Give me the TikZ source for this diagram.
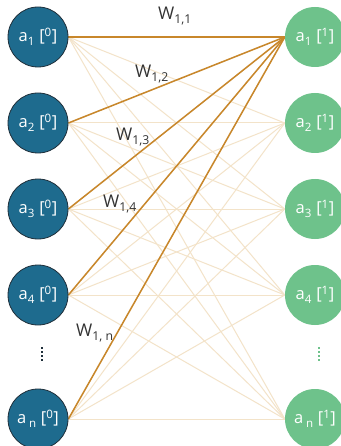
\documentclass[tikz,border=0pt]{standalone}
\usepackage{fontspec}
\setmainfont{Open Sans}
\usetikzlibrary{backgrounds}
\definecolor{inblue}{HTML}{1E6B8E}
\definecolor{inedge}{HTML}{1F2F3A}
\definecolor{outgreen}{HTML}{6EC28B}
\definecolor{wire}{HTML}{C8872B}
\definecolor{wirefaint}{HTML}{F3E3C9}
\definecolor{labelgray}{HTML}{333333}
\tikzset{
  inunit/.style={circle, minimum size=60pt, inner sep=0pt, fill=inblue, draw=inedge, line width=0.8pt, text=white, font=\fontsize{16.5}{16.5}\selectfont},
  outunit/.style={circle, minimum size=60pt, inner sep=0pt, fill=outgreen, text=white, font=\fontsize{16.5}{16.5}\selectfont},
  faintwire/.style={draw=wirefaint, line width=1pt},
  boldwire/.style={draw=wire, line width=1.5pt},
  wlabel/.style={text=labelgray, inner sep=0pt, anchor=west, font=\fontsize{17.5}{17.5}\selectfont}
}
\newcommand{\sbs}[1]{\raisebox{-1.5pt}{\textsubscript{#1}}}
\newcommand{\sps}[1]{\raisebox{-1pt}{\textsuperscript{#1}}}
\begin{document}
\begin{tikzpicture}[x=1pt,y=-1pt]
\useasboundingbox (0,0) rectangle (340,446);
% input layer
\node[inunit] (l1) at (38,37)  {a\sbs{1} [\sps{0}]};
\node[inunit] (l2) at (38,123) {a\sbs{2} [\sps{0}]};
\node[inunit] (l3) at (38,209) {a\sbs{3} [\sps{0}]};
\node[inunit] (l4) at (38,295) {a\sbs{4} [\sps{0}]};
\node[inunit] (ln) at (38,419) {a\,\sbs{n} [\sps{0}]};
% output layer
\node[outunit] (r1) at (315,37)  {a\sbs{1} [\sps{1}]};
\node[outunit] (r2) at (315,123) {a\sbs{2} [\sps{1}]};
\node[outunit] (r3) at (315,209) {a\sbs{3} [\sps{1}]};
\node[outunit] (r4) at (315,295) {a\sbs{4} [\sps{1}]};
\node[outunit] (rn) at (315,419) {a\,\sbs{n} [\sps{1}]};
% white page, then all connections beneath the units
\begin{scope}[on background layer]
  \fill[white] (0,0) rectangle (340,446);
  \foreach \a in {l1,l2,l3,l4,ln}
    \foreach \b in {r1,r2,r3,r4,rn}
      \draw[faintwire] (\a.east) -- (\b.west);
  \foreach \a in {l1,l2,l3,l4,ln}
    \draw[boldwire] (\a.east) -- (r1.west);
\end{scope}
% vertical ellipses
\foreach \y in {348,352,356,360} {
  \fill[inedge] (40.8,\y-1.2) rectangle (43.2,\y+1.2);
  \fill[outgreen] (317.8,\y-1.2) rectangle (320.2,\y+1.2);
}
% weight labels
\node[wlabel] (w11) at (158,16)  {W\sbs{1,1}};
\node[wlabel] (w12) at (135,74)  {W\sbs{1,2}};
\node[wlabel] (w13) at (116,137) {W\sbs{1,3}};
\node[wlabel] (w14) at (103,204) {W\sbs{1,4}};
\node[wlabel] (w1n) at (76,333)  {W\sbs{1, n}};
\end{tikzpicture}
\end{document}
